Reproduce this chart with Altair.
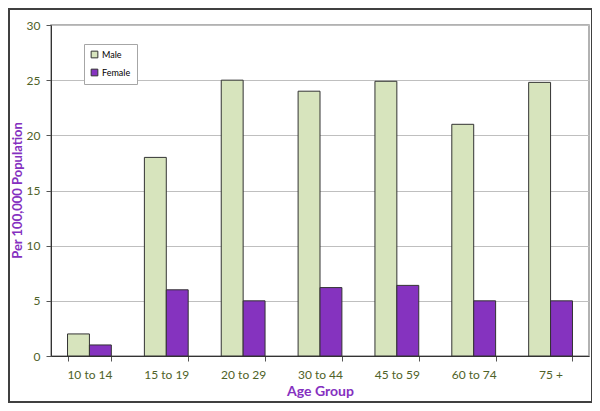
import altair as alt
import pandas as pd

groups = ["10 to 14", "15 to 19", "20 to 29", "30 to 44", "45 to 59", "60 to 74", "75 +"]
male = [2, 18, 25, 24, 24.9, 21, 24.8]
female = [1, 6, 5, 6.2, 6.4, 5, 5]

rows = []
for g, m, f in zip(groups, male, female):
    rows.append({"group": g, "sex": "Male", "value": m})
    rows.append({"group": g, "sex": "Female", "value": f})
df = pd.DataFrame(rows)

FONT = "Lato"
label_col = "#4F6228"
title_col = "#8530C0"

bars = alt.Chart(df).mark_bar(stroke="#333333", strokeWidth=1).encode(
    x=alt.X("group:N", sort=groups,
            scale=alt.Scale(paddingInner=0.43, paddingOuter=0.215),
            axis=alt.Axis(title="Age Group", labelAngle=0, tickBand="extent",
                          labelFont=FONT, labelFontSize=12, labelColor=label_col,
                          labelPadding=8, tickSize=5, tickColor="#555555",
                          domainColor="#333333", titleFont=FONT, titleFontSize=14,
                          titleFontWeight="bold", titleColor=title_col, titlePadding=4)),
    xOffset=alt.XOffset("sex:N", sort=["Male", "Female"], scale=alt.Scale(paddingInner=0, paddingOuter=0)),
    y=alt.Y("value:Q", scale=alt.Scale(domain=[0, 30]),
            axis=alt.Axis(title="Per 100,000 Population", values=[0, 5, 10, 15, 20, 25, 30],
                          grid=True, gridColor="#BFBFBF", tickSize=5, tickColor="#555555",
                          domainColor="#333333", labelFont=FONT, labelFontSize=12,
                          labelColor=label_col, labelPadding=6, titleFont=FONT,
                          titleFontSize=13, titleFontWeight="bold", titleColor=title_col,
                          titleX=-34, titleY=165, titleAngle=270, titleAlign="center",
                          titleBaseline="middle")),
    color=alt.Color("sex:N", sort=["Male", "Female"],
                    scale=alt.Scale(domain=["Male", "Female"], range=["#D7E4BD", "#8533BF"]),
                    legend=alt.Legend(title=None, orient="none", legendX=33, legendY=19,
                                      symbolType="square", symbolSize=45,
                                      symbolStrokeColor="#333333", symbolStrokeWidth=1,
                                      labelFont=FONT, labelFontSize=9, labelColor="#000000",
                                      rowPadding=7, strokeColor="#A6A6A6", fillColor="white",
                                      padding=6, labelOffset=3)),
)

frame = alt.Chart(pd.DataFrame({"a": [0]})).mark_rect(
    filled=False, stroke="#404040", strokeWidth=2, clip=False
).encode(x=alt.value(-42), x2=alt.value(541), y=alt.value(-16), y2=alt.value(377))

chart = alt.layer(frame, bars).properties(
    width=538, height=331,
    padding={"left": 43, "top": 17, "right": 3, "bottom": 47},
    autosize=alt.AutoSizeParams(type="none"),
    background="white",
).configure_view(stroke="#999999", strokeWidth=1.5)

chart.save("out.html", embed_options={"renderer": "svg", "actions": False})
